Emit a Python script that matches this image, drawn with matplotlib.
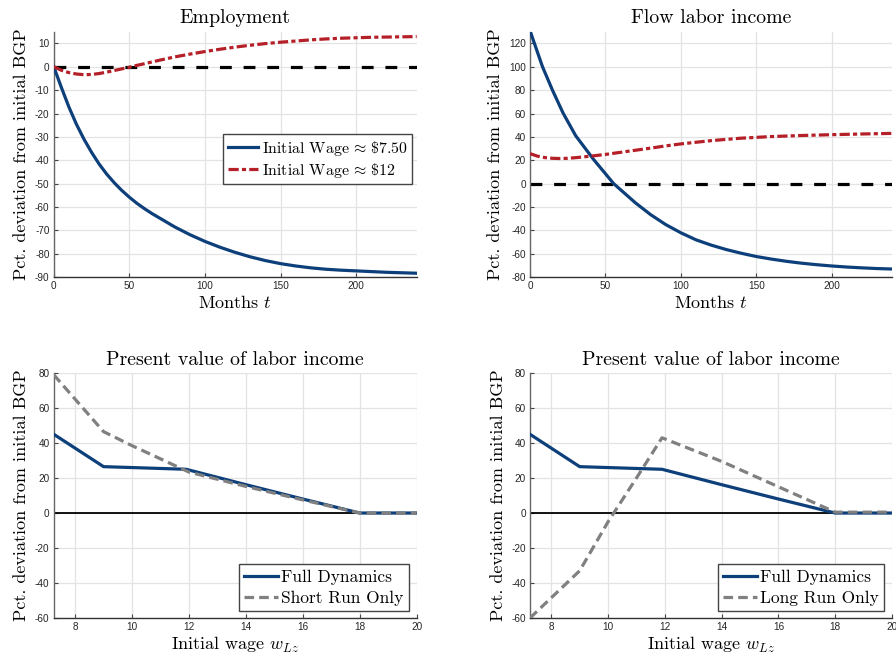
import matplotlib
matplotlib.use("Agg")
import matplotlib.pyplot as plt
import numpy as np

plt.rcParams['font.family'] = ['Liberation Sans', 'DejaVu Sans']
plt.rcParams['mathtext.fontset'] = 'cm'
plt.rcParams['axes.unicode_minus'] = False

SERIF = 'cmr10'

# ---- Data ----
emp_months = [0, 5, 10, 15, 20, 25, 30, 35, 40, 45, 50, 55, 60, 65, 70, 80, 90, 100,
              110, 120, 130, 140, 150, 160, 170, 180, 190, 200, 210, 220, 230, 240]
emp_low = [0, -8.8, -17.2, -24.6, -31, -36.6, -41.6, -45.9, -49.6, -52.9, -55.8, -58.4,
           -60.7, -62.8, -64.7, -68.5, -71.8, -74.7, -77.2, -79.4, -81.3, -82.9, -84.2,
           -85.2, -86.0, -86.6, -87.0, -87.3, -87.6, -87.9, -88.1, -88.3]
emp_high = [0, -1.5, -2.5, -3.1, -3.4, -3.3, -2.9, -2.3, -1.6, -0.9, -0.2, 0.6,
            1.3, 2.05, 2.8, 4.2, 5.4, 6.5, 7.5, 8.4, 9.2, 9.9, 10.5,
            11.0, 11.5, 11.9, 12.2, 12.4, 12.6, 12.7, 12.8, 12.9]

flow_months_low = [0, 4, 8.3, 14.9, 21.9, 30.3, 42.3, 55.5, 70, 80, 90, 100, 110, 120,
                   130, 140, 150, 160, 170, 180, 190, 200, 210, 220, 230, 240]
flow_low = [131, 116, 100, 80, 60.5, 41, 20.5, 0, -16.5, -26.5, -35, -42, -48, -52.5,
            -56.3, -59.5, -62.3, -64.5, -66.4, -68, -69.3, -70.4, -71.3, -72, -72.6, -73]
flow_months_high = [0, 5, 10, 15, 20, 25, 30, 40, 50, 60, 70, 80, 90, 100, 120, 140,
                    160, 180, 200, 220, 240]
flow_high = [25.7, 23.5, 22.3, 21.7, 21.5, 21.7, 22.2, 23.5, 25, 26.8, 28.6, 30.4, 32.3,
             34, 36.8, 38.9, 40.3, 41.2, 41.9, 42.5, 43]

wages_full = [7.25, 9, 11.9, 14, 16, 18, 20]
pv_full = [45, 26.5, 25, 16.2, 8, 0, 0]
wages_short = [7.25, 9, 10, 12, 14, 16, 18, 20]
pv_short = [79, 46.5, 38.5, 23.4, 15.2, 7.5, 0, 0]
wages_long = [7.25, 9, 10, 11, 11.9, 14, 16, 18, 20]
pv_long = [-60, -33, -5, 20, 43, 29.5, 15, 0.5, 0.5]

BLUE = '#0d3f7a'
RED = '#b52028'
GRAY = '#808080'
DASHDOT = (0, (3.2, 1.0, 1.3, 1.0))
ZERODASH = (0, (3.7, 3.7))
GRAYDASH = (0, (3.0, 1.6))

fig = plt.figure(figsize=(8.96, 6.6), dpi=100)
axes_pos = [
    [0.060, 0.580, 0.405, 0.372],
    [0.5915, 0.580, 0.404, 0.372],
    [0.060, 0.0636, 0.405, 0.3712],
    [0.5915, 0.0636, 0.404, 0.3712],
]
axs = [fig.add_axes(p) for p in axes_pos]


def style(ax, title, xlabel):
    ax.set_title(title, fontfamily=SERIF, fontsize=14.3, pad=6)
    ax.set_xlabel(xlabel, fontfamily=SERIF, fontsize=13, labelpad=2)
    ax.set_ylabel('Pct. deviation from initial BGP', fontfamily=SERIF, fontsize=13, labelpad=4)
    ax.grid(True, color='#e3e3e3', lw=0.9)
    ax.set_axisbelow(True)
    for s in ['top', 'right']:
        ax.spines[s].set_visible(False)
    ax.spines['left'].set_color('#666666')
    ax.spines['bottom'].set_color('#333333')
    ax.spines['left'].set_linewidth(1.0)
    ax.spines['bottom'].set_linewidth(1.0)
    ax.tick_params(direction='in', length=3, labelsize=7.2, labelcolor='#262626',
                   color='#444444', pad=3)


def legend(ax, size, spacing, **kw):
    leg = ax.legend(prop={'family': SERIF, 'size': size}, fancybox=False,
                    framealpha=1, edgecolor='#444444', handlelength=1.95,
                    handletextpad=0.2, borderpad=0.3, labelspacing=spacing,
                    borderaxespad=0, **kw)
    leg.get_frame().set_linewidth(1.0)
    return leg


# Employment
ax = axs[0]
ax.axhline(0, color='black', lw=2.3, ls=ZERODASH, zorder=2)
ax.plot(emp_months, emp_low, color=BLUE, lw=2.3,
        label=r'Initial Wage$\,\approx\,$\$7.50', zorder=3)
ax.plot(emp_months, emp_high, color=RED, lw=2.3, ls=DASHDOT,
        label=r'Initial Wage$\,\approx\,$\$12', zorder=3)
ax.set_xlim(0, 240)
ax.set_ylim(-90, 15)
ax.set_xticks([0, 50, 100, 150, 200])
ax.set_yticks(np.arange(-90, 11, 10))
style(ax, 'Employment', r'Months $t$')
legend(ax, 11.4, 0.2, loc='upper left', bbox_to_anchor=(0.466, 0.584))

# Flow labor income
ax = axs[1]
ax.axhline(0, color='black', lw=2.3, ls=ZERODASH, zorder=2)
ax.plot(flow_months_low, flow_low, color=BLUE, lw=2.3, zorder=3)
ax.plot(flow_months_high, flow_high, color=RED, lw=2.3, ls=DASHDOT, zorder=3)
ax.set_xlim(0, 240)
ax.set_ylim(-80, 130)
ax.set_xticks([0, 50, 100, 150, 200])
ax.set_yticks(np.arange(-80, 121, 20))
style(ax, 'Flow labor income', r'Months $t$')

# PV short run
ax = axs[2]
ax.axhline(0, color='black', lw=1.3, zorder=2)
ax.plot(wages_full, pv_full, color=BLUE, lw=2.3, label='Full Dynamics', zorder=3)
ax.plot(wages_short, pv_short, color=GRAY, lw=2.3, ls=GRAYDASH, label='Short Run Only', zorder=3)
ax.set_xlim(7.25, 20)
ax.set_ylim(-60, 80)
ax.set_xticks(np.arange(8, 21, 2))
ax.set_yticks(np.arange(-60, 81, 20))
style(ax, 'Present value of labor income', r'Initial wage $w_{Lz}$')
legend(ax, 12.5, 0.32, loc='lower right', bbox_to_anchor=(0.978, 0.029))

# PV long run
ax = axs[3]
ax.axhline(0, color='black', lw=1.3, zorder=2)
ax.plot(wages_full, pv_full, color=BLUE, lw=2.3, label='Full Dynamics', zorder=3)
ax.plot(wages_long, pv_long, color=GRAY, lw=2.3, ls=GRAYDASH, label='Long Run Only', zorder=3)
ax.set_xlim(7.25, 20)
ax.set_ylim(-60, 80)
ax.set_xticks(np.arange(8, 21, 2))
ax.set_yticks(np.arange(-60, 81, 20))
style(ax, 'Present value of labor income', r'Initial wage $w_{Lz}$')
legend(ax, 12.5, 0.32, loc='lower right', bbox_to_anchor=(0.978, 0.029))

fig.savefig('out.png', dpi=100)
